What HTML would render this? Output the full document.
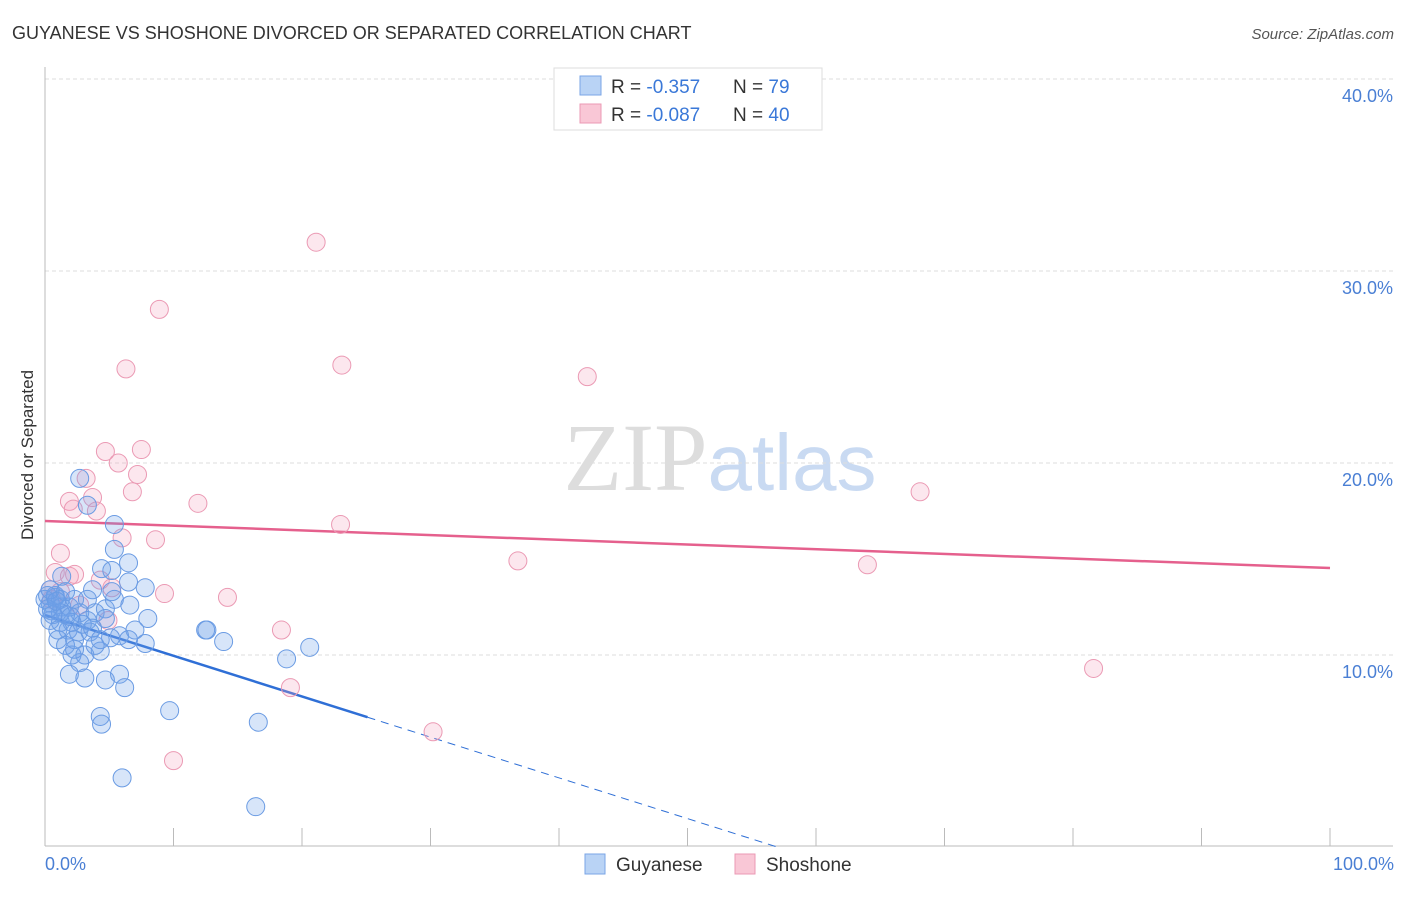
<!DOCTYPE html>
<html><head><meta charset="utf-8"><style>
body{margin:0;background:#fff;font-family:"Liberation Sans",sans-serif}
svg text{font-family:"Liberation Sans",sans-serif}
</style></head><body>
<svg id="chart" width="1406" height="892" viewBox="0 0 1406 892" xmlns="http://www.w3.org/2000/svg">
<text x="12" y="39" font-size="18" fill="#333">GUYANESE VS SHOSHONE DIVORCED OR SEPARATED CORRELATION CHART</text>
<text x="1394" y="39" font-size="15" fill="#555" text-anchor="end" font-style="italic">Source: ZipAtlas.com</text>
<text x="720" y="490" font-size="96" text-anchor="middle"><tspan fill="#ddd" font-family="Liberation Serif">ZIP</tspan><tspan fill="#c9daf2" font-size="80">atlas</tspan></text>
<g id="grid"></g>
<g id="axes"></g>
<g id="lines"></g>
<g id="pts"></g>
<text transform="translate(33,455) rotate(-90)" font-size="17" fill="#333" text-anchor="middle">Divorced or Separated</text>
<text x="45" y="870" font-size="18" fill="#4a7fd4">0.0%</text>
<text x="1394" y="870" font-size="18" fill="#4a7fd4" text-anchor="end">100.0%</text>
<g>
<rect x="554" y="68" width="268" height="62" fill="#fff" stroke="#ddd"/>
<rect x="580" y="76" width="21" height="19" fill="#b9d3f5" stroke="#7aa5e6"/>
<rect x="580" y="104" width="21" height="19" fill="#f9c7d6" stroke="#eb9ab4"/>
<text x="611" y="93" font-size="19" fill="#333">R = <tspan fill="#3a78d8">-0.357</tspan><tspan x="733">N = </tspan><tspan fill="#3a78d8">79</tspan></text>
<text x="611" y="121" font-size="19" fill="#333">R = <tspan fill="#3a78d8">-0.087</tspan><tspan x="733">N = </tspan><tspan fill="#3a78d8">40</tspan></text>
</g>
<g>
<rect x="585" y="854" width="20" height="20" fill="#b9d3f5" stroke="#7aa5e6"/>
<text x="616" y="871" font-size="19" fill="#333">Guyanese</text>
<rect x="735" y="854" width="20" height="20" fill="#f9c7d6" stroke="#eb9ab4"/>
<text x="766" y="871" font-size="19" fill="#333">Shoshone</text>
</g>
</svg>
<script>
const yTicks=[10,20,30,40];
const yTickLabels=["10.0%","20.0%","30.0%","40.0%"];
const guyX=[2.7,3.3,5.4,5.4,6.5,4.4,5.2,7.8,6.5,3.7,1.3,0.8,0.4,0.5,1.3,1.9,2.7,3.9,4.7,3.3,2.1,1.2,1.8,2.6,3.5,4.7,8.0,7.0,5.8,5.1,6.5,7.8,1.0,1.6,2.3,2.1,3.1,4.3,2.7,1.9,3.1,4.7,5.8,6.2,12.5,12.6,13.9,20.6,18.8,9.7,4.3,4.4,16.6,6.0,16.4,0.4,0.2,0.8,1.2,1.6,2.3,2.9,3.9,5.2,3.7,2.3,1.2,4.3,3.3,5.4,6.6,0.0,0.4,0.6,1.0,1.6,0.2,0.9,2.0];
const guyY=[19.2,17.8,16.8,15.5,14.8,14.5,14.4,13.5,13.8,13.4,14.1,13.0,12.7,12.3,12.5,12.5,12.2,12.2,12.4,11.8,11.7,11.7,11.3,11.2,11.2,11.9,11.9,11.3,11.0,10.9,10.8,10.6,10.8,10.5,10.8,10.0,10.0,10.2,9.6,9.0,8.8,8.7,9.0,8.3,11.3,11.3,10.7,10.4,9.8,7.1,6.8,6.4,6.5,3.6,2.1,11.8,13.1,13.1,12.9,12.1,12.9,11.6,10.5,13.3,11.4,10.3,12.2,10.8,12.9,12.9,12.6,12.9,13.4,12.1,11.3,13.3,12.4,12.8,12.0];
const shoX=[21.1,8.9,6.3,23.1,42.2,4.7,7.5,5.7,7.2,3.2,6.8,3.7,1.9,11.9,4.0,2.2,23.0,6.0,8.6,1.2,36.8,64.0,68.1,0.8,1.9,2.3,4.3,5.2,9.3,14.2,0.4,0.5,4.9,18.4,19.1,81.6,30.2,10.0,1.2,2.7];
const shoY=[31.5,28.0,24.9,25.1,24.5,20.6,20.7,20.0,19.4,19.2,18.5,18.2,18.0,17.9,17.5,17.6,16.8,16.1,16.0,15.3,14.9,14.7,18.5,14.3,14.1,14.2,13.9,13.5,13.2,13.0,13.4,12.9,11.8,11.3,8.3,9.3,6.0,4.5,13.3,12.6];
const guyTrend=[12.08,-0.212];
const guySolidEnd=25.1;
const shoTrend=[16.98,-0.0245];
const xTicks=[0,10,20,30,40,50,60,70,80,90,100];

const NS="http://www.w3.org/2000/svg";
const sx=v=>45+v*12.85, sy=v=>847-v*19.2;
function mk(tag,attrs,parent){const e=document.createElementNS(NS,tag);for(const k in attrs)e.setAttribute(k,attrs[k]);parent.appendChild(e);return e;}
const grid=document.getElementById('grid'),axes=document.getElementById('axes'),lines=document.getElementById('lines'),pts=document.getElementById('pts');
yTicks.forEach((t,i)=>{
 const l=mk('line',{x1:45,x2:1393,y1:sy(t),y2:sy(t),stroke:'#ddd','stroke-dasharray':'4,3'},grid);
 
 
 const tx=mk('text',{x:1393,y:sy(t)+23,'font-size':18,fill:'#4a7fd4','text-anchor':'end'},grid);
 tx.textContent=yTickLabels[i];
 
 
});
const ya=mk('line',{x1:45,x2:45,y1:67,y2:846,stroke:'#bbb'},axes);


const xa=mk('line',{x1:45,x2:1393,y1:846,y2:846,stroke:'#bbb'},axes);


xTicks.forEach(t=>{const l=mk('line',{x1:sx(t),x2:sx(t),y1:828,y2:846,stroke:'#bbb'},axes);
 
 });
function pt(x,y,fill,stroke,name){const c=mk('circle',{cx:sx(x),cy:sy(y),r:9,fill:fill,stroke:stroke,'stroke-width':1},pts);
 
 }
shoX.forEach((x,i)=>pt(x,shoY[i],'rgba(244,160,188,0.25)','#eb9ab4','shoshone-point'));
guyX.forEach((x,i)=>pt(x,guyY[i],'rgba(110,160,235,0.28)','#6a9be3','guyanese-point'));
const gy=x=>guyTrend[0]+guyTrend[1]*x, gEnd=-guyTrend[0]/guyTrend[1];
const g1=mk('line',{x1:sx(0),y1:sy(gy(0)),x2:sx(guySolidEnd),y2:sy(gy(guySolidEnd)),stroke:'#2f6fd6','stroke-width':2.5},lines);


const g2=mk('line',{x1:sx(guySolidEnd),y1:sy(gy(guySolidEnd)),x2:sx(gEnd),y2:sy(0),stroke:'#2f6fd6','stroke-width':1,'stroke-dasharray':'8,6'},lines);


const sh=x=>shoTrend[0]+shoTrend[1]*x;
const s1=mk('line',{x1:sx(0),y1:sy(sh(0)),x2:sx(100),y2:sy(sh(100)),stroke:'#e5608d','stroke-width':2.5},lines);


</script>
</body></html>
